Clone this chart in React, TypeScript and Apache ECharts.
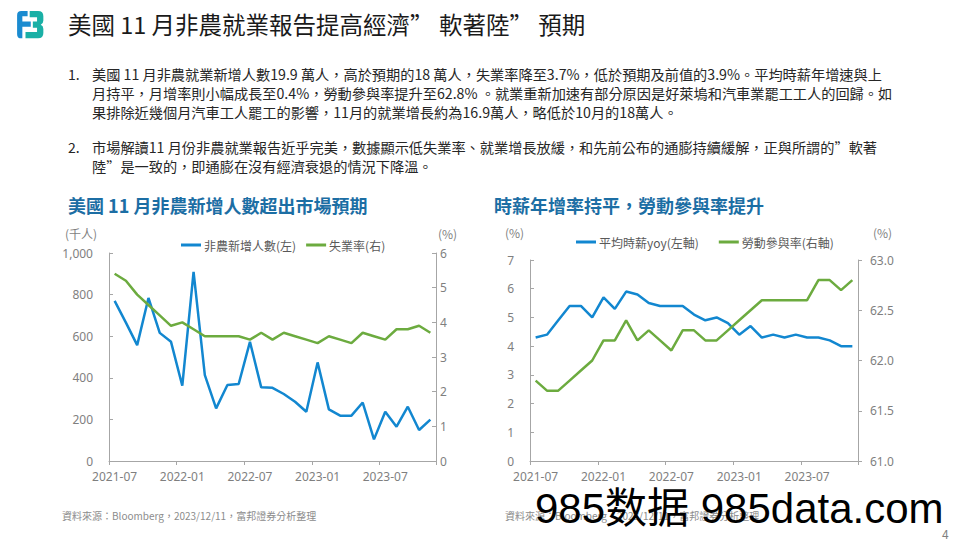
import React, { useEffect, useRef } from "react";
import * as echarts from "echarts";

const months = [
  "2021-07","2021-08","2021-09","2021-10","2021-11","2021-12",
  "2022-01","2022-02","2022-03","2022-04","2022-05","2022-06",
  "2022-07","2022-08","2022-09","2022-10","2022-11","2022-12",
  "2023-01","2023-02","2023-03","2023-04","2023-05","2023-06",
  "2023-07","2023-08","2023-09","2023-10","2023-11",
];

const payrolls = [770, 665, 557, 784, 616, 573, 362, 909, 413, 253, 365, 370, 573, 354, 352, 322, 285, 237, 474, 248, 218, 218, 281, 104, 237, 165, 261, 149, 199];
const unemployment = [5.4, 5.2, 4.8, 4.5, 4.2, 3.9, 4.0, 3.8, 3.6, 3.6, 3.6, 3.6, 3.5, 3.7, 3.5, 3.7, 3.6, 3.5, 3.4, 3.6, 3.5, 3.4, 3.7, 3.6, 3.5, 3.8, 3.8, 3.9, 3.7];
const wageYoy = [4.3, 4.4, 4.9, 5.4, 5.4, 5.0, 5.7, 5.3, 5.9, 5.8, 5.5, 5.4, 5.4, 5.4, 5.1, 4.9, 5.0, 4.8, 4.4, 4.7, 4.3, 4.4, 4.3, 4.4, 4.3, 4.3, 4.2, 4.0, 4.0];
const participation = [61.8, 61.7, 61.7, 61.8, 61.9, 62.0, 62.2, 62.2, 62.4, 62.2, 62.3, 62.2, 62.1, 62.3, 62.3, 62.2, 62.2, 62.3, 62.4, 62.5, 62.6, 62.6, 62.6, 62.6, 62.6, 62.8, 62.8, 62.7, 62.8];

const mainTitle = "美國 11 月非農就業報告提高經濟” 軟著陸” 預期";
const bodyLines = [
  "美國 11 月非農就業新增人數19.9 萬人，高於預期的18 萬人，失業率降至3.7%，低於預期及前值的3.9%。平均時薪年增速與上",
  "月持平，月增率則小幅成長至0.4%，勞動參與率提升至62.8% 。就業重新加速有部分原因是好萊塢和汽車業罷工工人的回歸。如",
  "果排除近幾個月汽車工人罷工的影響，11月的就業增長約為16.9萬人，略低於10月的18萬人。",
  "市場解讀11 月份非農就業報告近乎完美，數據顯示低失業率、就業增長放緩，和先前公布的通膨持續緩解，正與所謂的”軟著",
  "陸”是一致的，即通膨在沒有經濟衰退的情況下降溫。",
];
const chartTitleLeft = "美國 11 月非農新增人數超出市場預期";
const chartTitleRight = "時薪年增率持平，勞動參與率提升";
const legendLeft = ["非農新增人數(左)", "失業率(右)"];
const legendRight = ["平均時薪yoy(左軸)", "勞動參與率(右軸)"];
const sourceText = "資料來源：Bloomberg，2023/12/11，富邦證券分析整理";

const BLUE = "#1287d0";
const GREEN = "#6cab3f";
const AXIS = "#a6a6a6";
const LABEL = "#7f7f7f";
const CJK = "'Noto Sans CJK TC', 'Noto Sans', sans-serif";

const logoLeft = "M2 5 Q2 1 6 1 H12 V6 H7 V11 H15 V16 H7 V27 H6 Q2 27 2 23 Z";
const logoRight = "M14 1 H22 Q27 1 27 6 V10 Q27 13 24.5 14 Q27 15 27 18 V22 Q27 27 22 27 H10 V21 H21 V17 H17 V11 H21 V7 H14 Z";

echarts.graphic.registerShape("logoL", echarts.graphic.extendPath(logoLeft, {}));
echarts.graphic.registerShape("logoR", echarts.graphic.extendPath(logoRight, {}));

export default function App() {
  const ref = useRef<HTMLDivElement>(null);
  useEffect(() => {
    if (!ref.current) return;
    const chart = echarts.init(ref.current, undefined, { renderer: "svg" });
    const xAxisBase = (gridIndex: number) => ({
      type: "category" as const,
      gridIndex,
      data: months,
      boundaryGap: true,
      axisLine: { lineStyle: { color: AXIS, width: 1 } },
      axisTick: { show: true, interval: 5, length: 4, lineStyle: { color: AXIS } },
      axisLabel: { interval: 5, color: LABEL, fontSize: 12, margin: 9, fontFamily: "Noto Sans" },
      splitLine: { show: false },
    });
    const yAxisBase = (gridIndex: number, position: "left" | "right", min: number, max: number, interval: number, margin: number, fmt: (v: number) => string) => ({
      type: "value" as const,
      gridIndex,
      position,
      min,
      max,
      interval,
      axisLine: { show: true, lineStyle: { color: AXIS, width: 1 } },
      axisTick: { show: true, inside: true, length: 4, lineStyle: { color: AXIS } },
      axisLabel: { color: LABEL, fontSize: 12, margin, fontFamily: "Noto Sans", formatter: fmt },
      splitLine: { show: false },
    });
    const legendBase = {
      itemWidth: 20,
      itemHeight: 3,
      icon: "rect",
      itemGap: 10,
      textStyle: { color: "#595959", fontSize: 12, fontFamily: CJK, padding: [0, 0, 0, -2] },
    };
    const text = (x: number, y: number, t: string, fontSize: number, fill: string, extra: any = {}) => ({
      type: "text",
      x,
      y,
      style: { text: t, fontSize, fill, fontFamily: CJK, textVerticalAlign: "middle", ...extra },
    });
    const lineY = [74, 93, 112, 147, 166];
    chart.setOption({
      animation: false,
      grid: [
        { left: 109, top: 253, width: 327, height: 208 },
        { left: 530, top: 260, width: 328, height: 201 },
      ],
      legend: [
        { ...legendBase, data: legendLeft, left: 176, top: 234 },
        { ...legendBase, data: legendRight, left: 571, top: 231, itemGap: 20 },
      ],
      xAxis: [xAxisBase(0), xAxisBase(1)],
      yAxis: [
        yAxisBase(0, "left", 0, 1000, 200, 16, (v: number) => v.toLocaleString("en-US")),
        yAxisBase(0, "right", 0, 6, 1, 4, (v: number) => String(v)),
        yAxisBase(1, "left", 0, 7, 1, 16, (v: number) => String(v)),
        { ...yAxisBase(1, "right", 61, 63, 0.5, 12, (v: number) => v.toFixed(1)), axisTick: { show: true, inside: false, length: 4, lineStyle: { color: AXIS } } },
      ],
      series: [
        { name: legendLeft[0], type: "line", xAxisIndex: 0, yAxisIndex: 0, data: payrolls, showSymbol: false, lineStyle: { color: BLUE, width: 2.5 }, itemStyle: { color: BLUE } },
        { name: legendLeft[1], type: "line", xAxisIndex: 0, yAxisIndex: 1, data: unemployment, showSymbol: false, lineStyle: { color: GREEN, width: 2.5 }, itemStyle: { color: GREEN } },
        { name: legendRight[0], type: "line", xAxisIndex: 1, yAxisIndex: 2, data: wageYoy, showSymbol: false, lineStyle: { color: BLUE, width: 2.5 }, itemStyle: { color: BLUE } },
        { name: legendRight[1], type: "line", xAxisIndex: 1, yAxisIndex: 3, data: participation, showSymbol: false, lineStyle: { color: GREEN, width: 2.5 }, itemStyle: { color: GREEN } },
      ],
      graphic: [
        {
          type: "group",
          x: 15,
          y: 10,
          children: [
            { type: "logoL", x: 0, y: 0, scaleX: 1.05, scaleY: 1.05, style: { fill: "#1a8bd0" } },
            { type: "logoR", x: 0, y: 0, scaleX: 1.05, scaleY: 1.05, style: { fill: "#1ab0a6" } },
          ],
        },
        text(68, 24, mainTitle, 23.5, "#1a1a1a"),
        text(68, lineY[0], "1.", 14, "#262626"),
        text(68, lineY[3], "2.", 14, "#262626"),
        ...bodyLines.map((l, i) => text(92, lineY[i], l, 14.2, "#262626")),
        text(68, 205, chartTitleLeft, 18, "#1c6ea4", { fontWeight: "bold" }),
        text(494, 205, chartTitleRight, 18, "#1c6ea4", { fontWeight: "bold" }),
        text(65, 233, "(千人)", 12, LABEL),
        text(438, 233, "(%)", 12, LABEL),
        text(505, 232, "(%)", 12, LABEL),
        text(873, 232, "(%)", 12, LABEL),
        text(62, 515, sourceText, 10, "#8c8c8c"),
        text(505, 515, sourceText, 10, "#8c8c8c"),
        text(942, 533, "4", 12, LABEL),
        {
          type: "text",
          x: 535,
          y: 508,
          style: { text: "985数据 985data.com", fontSize: 42, fill: "#000", fontFamily: "'Liberation Sans', 'Noto Sans CJK SC', sans-serif", textVerticalAlign: "middle" },
        },
      ],
    });
    return () => chart.dispose();
  }, []);
  return <div ref={ref} style={{ position: "fixed", left: 0, top: 0, width: 960, height: 540, background: "#fff" }} />;
}
